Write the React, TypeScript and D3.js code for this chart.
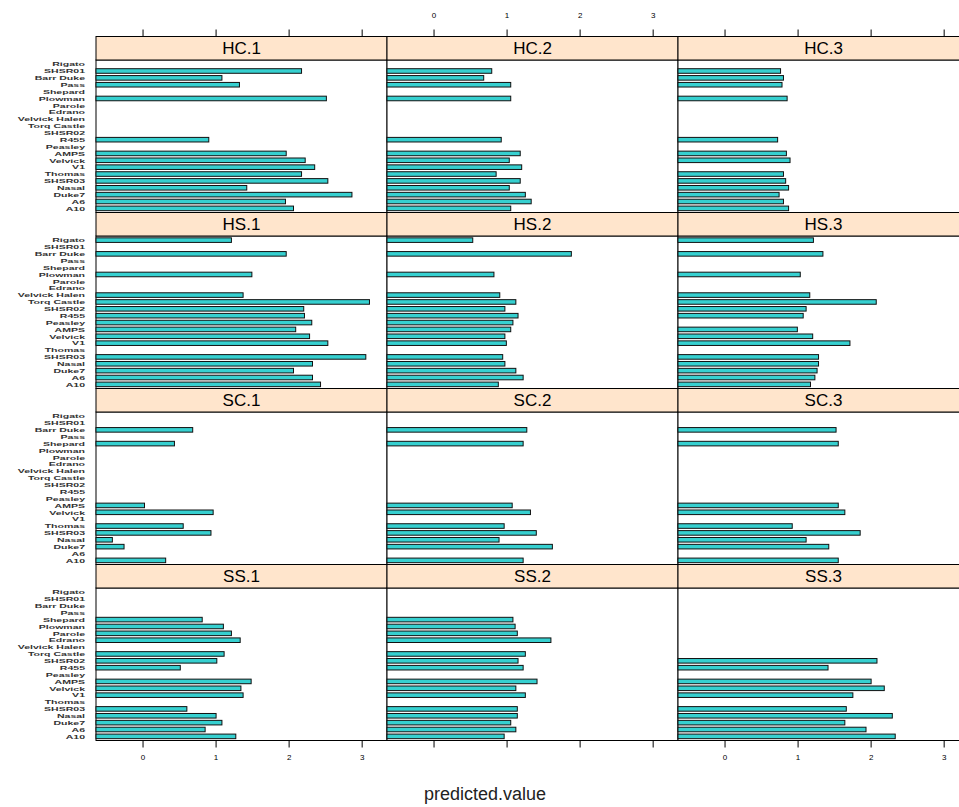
import React from "react";
import * as d3 from "d3";

// Factor levels, bottom to top
const categories = [
  "A10", "A6", "Duke7", "Nasal", "SHSR03", "Thomas", "V1", "Velvick", "AMPS", "Peasley",
  "R455", "SHSR02", "Torq Castle", "Velvick Halen", "Edrano", "Parole", "Plowman", "Shepard",
  "Pass", "Barr Duke", "SHSR01", "Rigato",
];

const N = null;
// predicted values per panel, aligned with categories (null = no estimate)
const hc1 = [2.06, 1.95, 2.86, 1.42, 2.53, 2.17, 2.35, 2.22, 1.96, N, 0.9, N, N, N, N, N, 2.51, N, 1.32, 1.08, 2.17, N];
const hc2 = [1.05, 1.33, 1.25, 1.03, 1.18, 0.85, 1.2, 1.03, 1.18, N, 0.92, N, N, N, N, N, 1.05, N, 1.05, 0.68, 0.79, N];
const hc3 = [0.87, 0.8, 0.74, 0.87, 0.83, 0.8, N, 0.89, 0.84, N, 0.72, N, N, N, N, N, 0.85, N, 0.78, 0.8, 0.76, N];
const hs1 = [2.43, 2.32, 2.06, 2.32, 3.05, N, 2.53, 2.28, 2.09, 2.31, 2.21, 2.2, 3.1, 1.37, N, N, 1.49, N, N, 1.96, N, 1.21];
const hs2 = [0.88, 1.22, 1.12, 0.97, 0.94, N, 0.99, 0.97, 1.05, 1.08, 1.15, 0.97, 1.12, 0.9, N, N, 0.82, N, N, 1.88, N, 0.53];
const hs3 = [1.17, 1.23, 1.26, 1.28, 1.28, N, 1.71, 1.2, 0.99, N, 1.07, 1.11, 2.07, 1.16, N, N, 1.03, N, N, 1.34, N, 1.21];
const sc1 = [0.31, N, -0.26, -0.42, 0.93, 0.55, N, 0.96, 0.02, N, N, N, N, N, N, N, N, 0.43, N, 0.68, N, N];
const sc2 = [1.22, N, 1.62, 0.89, 1.4, 0.96, N, 1.32, 1.07, N, N, N, N, N, N, N, N, 1.22, N, 1.27, N, N];
const sc3 = [1.55, N, 1.42, 1.11, 1.85, 0.92, N, 1.64, 1.55, N, N, N, N, N, N, N, N, 1.55, N, 1.52, N, N];
const ss1 = [1.27, 0.85, 1.08, 1.0, 0.6, N, 1.37, 1.34, 1.48, N, 0.51, 1.01, 1.11, N, 1.33, 1.21, 1.1, 0.81, N, N, N, N];
const ss2 = [0.96, 1.12, 1.05, 1.14, 1.14, N, 1.25, 1.12, 1.41, N, 1.22, 1.15, 1.25, N, 1.6, 1.14, 1.11, 1.08, N, N, N, N];
const ss3 = [2.33, 1.93, 1.64, 2.29, 1.66, N, 1.75, 2.18, 2.0, N, 1.41, 2.08, N, N, N, N, N, N, N, N, N, N];

const panelNames = [
  ["HC.1", "HC.2", "HC.3"],
  ["HS.1", "HS.2", "HS.3"],
  ["SC.1", "SC.2", "SC.3"],
  ["SS.1", "SS.2", "SS.3"],
];
const panelValues = [
  [hc1, hc2, hc3],
  [hs1, hs2, hs3],
  [sc1, sc2, sc3],
  [ss1, ss2, ss3],
];
const xTicks = [0, 1, 2, 3];
const xLabel = "predicted.value";

// layout
const W = 959;
const H = 807;
const left0 = 96;
const panelW = 291;
const top0 = 36.5;
const rowH = 176;
const stripH = 23.5;
const bodyH = rowH - stripH;
const xDomain: [number, number] = [-0.644, 3.34];
const FONT = "Liberation Sans, Arial, sans-serif";
const BAR_FILL = "#36d0d0";
const STRIP_FILL = "#ffe5cc";
// level labels are packed tightly: small glyphs, widened horizontally
const LABEL_SIZE = 6.2;
const LABEL_STRETCH = 1.7;

export default function App() {
  const nRows = panelNames.length;
  const bottom = top0 + nRows * rowH;
  const labelRight = left0 - 11;
  return (
    <svg
      width={W}
      height={H}
      style={{ position: "absolute", left: 0, top: 0, background: "#fff", display: "block" }}
      fontFamily={FONT}
    >
      {panelNames.map((row, r) => {
        const rowTop = top0 + r * rowH;
        const bodyTop = rowTop + stripH;
        const bodyBottom = rowTop + rowH;
        const y = d3.scaleLinear().domain([0.4, categories.length + 0.6]).range([bodyBottom, bodyTop]);
        const pitch = Math.abs(y(2) - y(1));
        const barH = (pitch * 2) / 3;
        return (
          <g key={r}>
            {/* category labels */}
            <g transform={`translate(${labelRight},0) scale(${LABEL_STRETCH},1)`}>
              {categories.map((c, i) => (
                <text
                  key={c}
                  x={0}
                  y={y(i + 1)}
                  dy="0.36em"
                  textAnchor="end"
                  fontSize={LABEL_SIZE}
                  fontWeight="bold"
                  fill="#333"
                >
                  {c}
                </text>
              ))}
            </g>
            {row.map((name, c) => {
              const x0 = left0 + c * panelW;
              const x = d3.scaleLinear().domain(xDomain).range([x0, x0 + panelW]);
              const vals = panelValues[r][c];
              return (
                <g key={name}>
                  <rect x={x0} y={bodyTop} width={panelW} height={bodyH} fill="#fff" stroke="#000" strokeWidth={1} />
                  {vals.map((v, i) =>
                    v === null ? null : (
                      <rect
                        key={i}
                        x={x(xDomain[0])}
                        y={y(i + 1) - barH / 2}
                        width={x(v) - x(xDomain[0])}
                        height={barH}
                        fill={BAR_FILL}
                        stroke="#111"
                        strokeWidth={1}
                      />
                    )
                  )}
                  <rect x={x0} y={rowTop} width={panelW} height={stripH} fill={STRIP_FILL} stroke="#000" strokeWidth={1} />
                  <text x={x0 + panelW / 2} y={rowTop + stripH / 2} dy="0.36em" textAnchor="middle" fontSize={17} fill="#000">
                    {name}
                  </text>
                  {/* top axis on first row */}
                  {r === 0 &&
                    xTicks.map((t) => (
                      <g key={"t" + t}>
                        <line x1={x(t)} x2={x(t)} y1={rowTop} y2={rowTop - 7} stroke="#000" />
                        {c === 1 && (
                          <text x={x(t)} y={rowTop - 19} textAnchor="middle" fontSize={8} fill="#000">
                            {t}
                          </text>
                        )}
                      </g>
                    ))}
                  {/* bottom axis on last row */}
                  {r === nRows - 1 &&
                    xTicks.map((t) => (
                      <g key={"b" + t}>
                        <line x1={x(t)} x2={x(t)} y1={bottom} y2={bottom + 7} stroke="#000" />
                        {c !== 1 && (
                          <text x={x(t)} y={bottom + 19} textAnchor="middle" fontSize={8} fill="#000">
                            {t}
                          </text>
                        )}
                      </g>
                    ))}
                </g>
              );
            })}
          </g>
        );
      })}
      <text x={485} y={800} textAnchor="middle" fontSize={18} fill="#222">
        {xLabel}
      </text>
    </svg>
  );
}
